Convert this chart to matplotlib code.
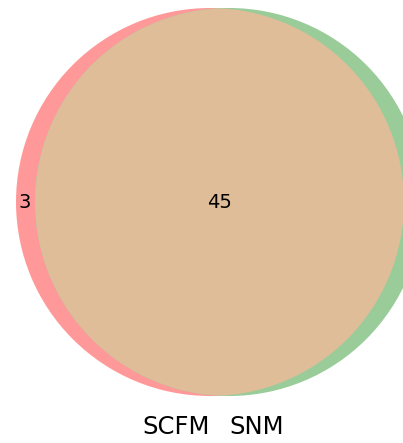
import numpy as np
import matplotlib
matplotlib.use("Agg")
import matplotlib.pyplot as plt
from matplotlib.patches import Circle
from matplotlib.colors import to_rgb

# venn subsets: (only A, only B, both)
set_names = ["SCFM", "SNM"]
only_a = 3
only_b = 3
both = 45
set_colors = ["r", "g"]
alpha = 0.4


def lens_area(r1, r2, d):
    # area of intersection of two circles
    if d >= r1 + r2:
        return 0.0
    if d <= abs(r1 - r2):
        return np.pi * min(r1, r2) ** 2
    a1 = r1**2 * np.arccos((d**2 + r1**2 - r2**2) / (2 * d * r1))
    a2 = r2**2 * np.arccos((d**2 + r2**2 - r1**2) / (2 * d * r2))
    a3 = 0.5 * np.sqrt((-d + r1 + r2) * (d + r1 - r2) * (d - r1 + r2) * (d + r1 + r2))
    return a1 + a2 - a3


ra = np.sqrt((only_a + both) / np.pi)
rb = np.sqrt((only_b + both) / np.pi)
lo, hi = abs(ra - rb), ra + rb
for _ in range(100):
    mid = (lo + hi) / 2
    if lens_area(ra, rb, mid) > both:
        lo = mid
    else:
        hi = mid
d = (lo + hi) / 2
ca = np.array([0.0, 0.0])
cb = np.array([d, 0.0])


def on_white(c):
    c = np.array(to_rgb(c))
    return tuple(1 - alpha * (1 - c))


col_a = on_white(set_colors[0])
col_b = on_white(set_colors[1])
mix = np.minimum(0.7 * (np.array(to_rgb(set_colors[0])) + np.array(to_rgb(set_colors[1]))), 1.0)
col_ab = on_white(mix)

W, H = 403, 443
fig = plt.figure(figsize=(W / 100, H / 100), dpi=100)
ax = fig.add_axes([0, 0, 1, 1])
ax.set_axis_off()

# pixel layout: circle A centre at (210, 202) from top-left, radius 194 px
s = 194 / ra
ax.set_xlim(ca[0] - 210 / s, ca[0] + (W - 210) / s)
ax.set_ylim(ca[1] - (H - 202) / s, ca[1] + 202 / s)
ax.set_aspect("equal")

circ_a = Circle(ca, ra, facecolor=col_a, linewidth=0)
circ_b = Circle(cb, rb, facecolor=col_b, linewidth=0)
ax.add_patch(circ_a)
ax.add_patch(circ_b)
lens = Circle(cb, rb, facecolor=col_ab, linewidth=0)
ax.add_patch(lens)
lens.set_clip_path(circ_a)

# region labels
xa = ((ca[0] - ra) + (cb[0] - rb)) / 2 - 0.015
ax.text(xa, 0, str(only_a), ha="center", va="center", fontsize=14)
xab = ((cb[0] - rb) + (ca[0] + ra)) / 2
ax.text(xab, 0, str(both), ha="center", va="center", fontsize=14)

# set labels
ax.annotate(set_names[0], xy=(ca[0], ca[1] - ra), xytext=(0, -14),
            textcoords="offset points", ha="right", va="top", fontsize=17.5)
ax.annotate(set_names[1], xy=(cb[0], cb[1] - rb), xytext=(0, -14),
            textcoords="offset points", ha="left", va="top", fontsize=17.5)

fig.savefig("out.png", dpi=100)
